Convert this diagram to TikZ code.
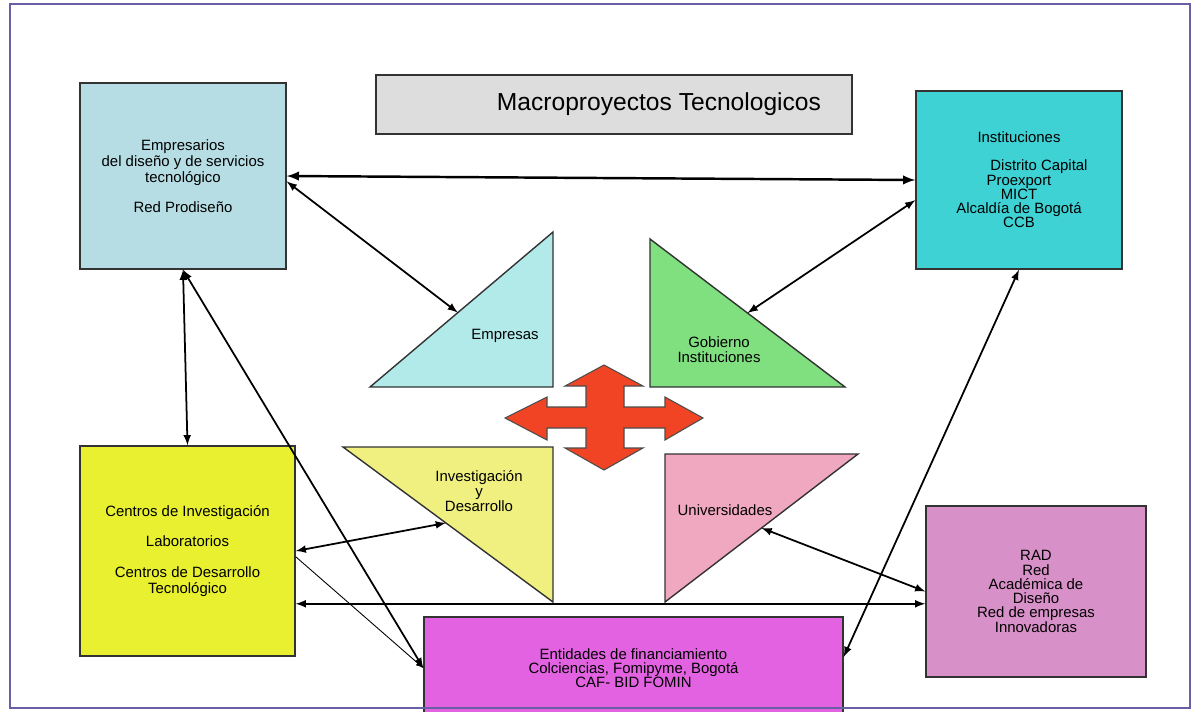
\documentclass[tikz,border=0pt]{standalone}
\usepackage{fontspec}
\setmainfont{Liberation Sans}
\usetikzlibrary{calc}

\definecolor{emprblue}{RGB}{182,221,228}
\definecolor{instcyan}{RGB}{62,210,212}
\definecolor{titlegray}{RGB}{221,221,221}
\definecolor{centyellow}{RGB}{232,240,48}
\definecolor{entmagenta}{RGB}{226,98,226}
\definecolor{radorchid}{RGB}{216,144,200}
\definecolor{empcyan}{RGB}{178,234,234}
\definecolor{gobgreen}{RGB}{128,224,128}
\definecolor{invyellow}{RGB}{240,240,128}
\definecolor{unipink}{RGB}{240,168,192}
\definecolor{crossred}{RGB}{240,68,36}
\definecolor{framepurple}{RGB}{105,95,165}

\tikzstyle{actor}=[draw=black!80,line width=0.8pt,rectangle,inner sep=0pt,align=center,font=\fontsize{8.5}{8.1}\selectfont]
\tikzstyle{tri}=[draw=black!80,line width=0.8pt]
\tikzstyle{tritext}=[align=center,inner sep=0pt,font=\fontsize{8.5}{8.5}\selectfont]
\tikzset{conn/.style={<->,line width=1pt},
	thickconn/.style={<->,line width=1.4pt},
	thinconn/.style={->,line width=0.5pt}
}

\begin{document}
\begin{tikzpicture}[x=0.02cm,y=-0.02cm]
	\useasboundingbox (0,0) rectangle (1197,711);
	\begin{scope}[>=latex] %filled arrow tips
		% boxes round the centre
		\node (empr)[actor,fill=emprblue,minimum width=4.12cm,minimum height=3.72cm,font=\fontsize{8.5}{9.1}\selectfont] at (183,176)
			{Empresarios\\del diseño y de servicios\\tecnológico\\[8pt]Red Prodiseño};
		\node (inst)[actor,fill=instcyan,minimum width=4.12cm,minimum height=3.56cm] at (1019,180)
			{Instituciones\\[7.9pt]\hspace*{0.8cm}Distrito Capital\\Proexport\\MICT\\Alcaldía de Bogotá\\CCB};
		\node (title)[actor,fill=titlegray,minimum width=9.52cm,minimum height=1.18cm,font=\fontsize{14}{16}\selectfont] at (614,104.5)
			{\hspace*{1.8cm}Macroproyectos Tecnologicos};
		\node (cent)[actor,fill=centyellow,minimum width=4.3cm,minimum height=4.2cm,font=\fontsize{8.5}{9.1}\selectfont] at (187.5,551)
			{Centros de Investigación\\[8.5pt]Laboratorios\\[8.5pt]Centros de Desarrollo\\Tecnológico};
		\node (ent)[actor,fill=entmagenta,minimum width=8.38cm,minimum height=2.04cm] at (633.5,668)
			{Entidades de financiamiento\\Colciencias, Fomipyme, Bogotá\\CAF- BID FOMIN};
		\node (rad)[actor,fill=radorchid,minimum width=4.4cm,minimum height=3.42cm] at (1036,591.5)
			{RAD\\Red\\Académica de\\Diseño\\Red de empresas\\Innovadoras};

		% the four triangles
		\coordinate (emp1) at (370,387); \coordinate (emp2) at (553,232); \coordinate (emp3) at (553,387);
		\coordinate (gob1) at (650,239); \coordinate (gob2) at (845,387); \coordinate (gob3) at (650,387);
		\coordinate (inv1) at (343,447); \coordinate (inv2) at (553,602); \coordinate (inv3) at (553,447);
		\coordinate (uni1) at (665,602); \coordinate (uni2) at (858,454); \coordinate (uni3) at (665,454);
		\draw[tri,fill=empcyan] (emp1) -- (emp2) -- (emp3) -- cycle;
		\draw[tri,fill=gobgreen] (gob1) -- (gob2) -- (gob3) -- cycle;
		\draw[tri,fill=invyellow] (inv1) -- (inv3) -- (inv2) -- cycle;
		\draw[tri,fill=unipink] (uni1) -- (uni2) -- (uni3) -- cycle;
		\node (emp)[tritext] at (505,336) {Empresas};
		\node (gob)[tritext] at (719,350) {Gobierno\\Instituciones};
		\node (inv)[tritext] at (479,491) {Investigación\\y\\Desarrollo};
		\node (uni)[tritext] at (725,510) {Universidades};

		% red cross in the middle
		\draw[fill=crossred,draw=black!70,line width=0.6pt]
			(604,365) -- (643,386) -- (624,386) -- (624,407) -- (665,407) -- (665,397)
			-- (703,418) -- (665,440) -- (665,428) -- (624,428) -- (624,448) -- (643,448)
			-- (604,470) -- (565,448) -- (586,448) -- (586,428) -- (547,428) -- (547,440)
			-- (505,418) -- (547,397) -- (547,407) -- (586,407) -- (586,386) -- (565,386) -- cycle;

		% connectors
		\draw[thickconn] (empr.east) -- (inst.west);
		\draw[conn] (empr.-3) -- ($(emp1)!0.48!(emp2)$);
		\draw[conn] (inst.191) -- ($(gob1)!0.5!(gob2)$);
		\draw[conn] (empr.south) -- (cent.north);
		\draw[conn] (empr.south) -- (ent.west);
		\draw[thinconn] (cent.-3) -- (ent.west);
		\draw[conn] (cent.east) -- ($(inv1)!0.49!(inv2)$);
		\draw[conn] (cent.-26) -- (cent.-26 -| rad.west);
		\draw[conn] ($(uni1)!0.5!(uni2)$) -- (rad.west);
		\draw[conn] (ent.3) -- (inst.south);
	\end{scope}
	% outer frame
	\draw[framepurple,line width=0.6pt] (10,4) rectangle (1190,708);
\end{tikzpicture}
\end{document}
